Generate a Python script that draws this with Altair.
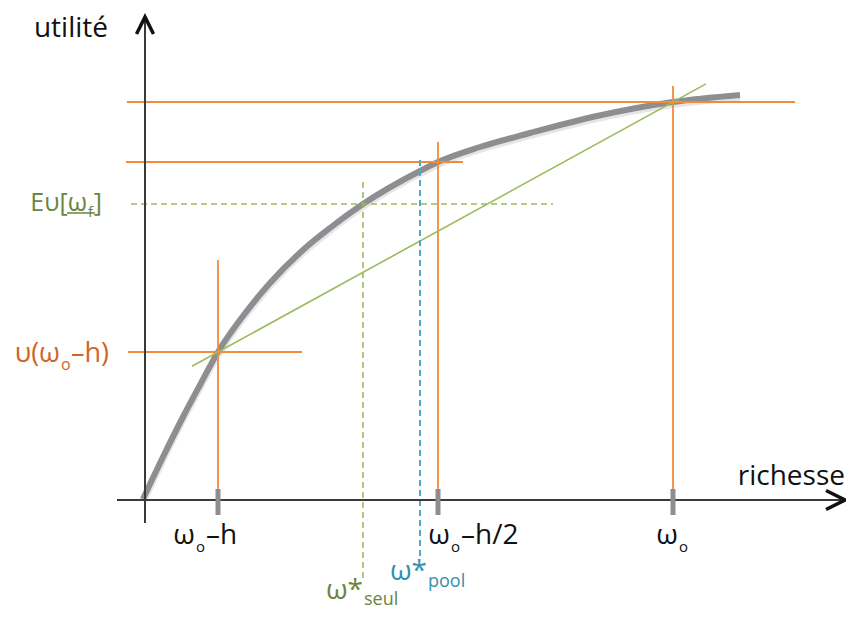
import altair as alt
import pandas as pd

# ---------------- data (schematic units: wealth w, utility u) ----------------
W_LOW = 73      # ω0 - h
W_MID = 293     # ω0 - h/2
W_0 = 528       # ω0
W_SEUL = 218    # ω*seul
W_POOL = 275    # ω*pool
U_LOW = 148     # u(ω0 - h)
U_MID = 338     # u(ω0 - h/2)
U_0 = 398       # u(ω0)
EU_F = 296      # Eu[ω_f]

curve_w = [-2, 18, 38, 55, 73, 95, 125, 158, 185, 218, 275, 293, 335, 385, 452, 528, 595]
curve_u = [1, 43, 83, 115, 148, 180, 217, 250, 272, 296, 329, 338, 353, 367, 384, 398, 405]

tick_w = [W_LOW, W_MID, W_0]

# extents of the guide lines
h_levels = [U_0, U_MID, U_LOW]
h_from = [-18, -19, -17]
h_to = [650, 318, 157]
v_levels = [W_LOW, W_MID, W_0]
v_top = [240, 358, 414]

X_AXIS = (-28, 698)
Y_AXIS = (-23, 481)

# chord through (ω0-h, u(ω0-h)) and (ω0, u(ω0)), extended a little
slope = (U_0 - U_LOW) / (W_0 - W_LOW)
chord_w = [47, 561]
chord_u = [U_LOW + slope * (w - W_LOW) for w in chord_w]

# ---------------- styling ----------------
FONT = "Open Sans"
ORANGE = "#F38B3C"
ORANGE_TXT = "#D0661E"
GREEN = "#9BBB59"
OLIVE_TXT = "#6A8540"
BLUE = "#4BACC6"
BLUE_TXT = "#3590AE"
GRAY = "#8E8E92"
BLACK = "#111111"

xs = alt.Scale(domain=[-137, 701], nice=False, zero=False)
ys = alt.Scale(domain=[-111, 492], nice=False, zero=False)


def X(f):
    return alt.X(f, type="quantitative", scale=xs, axis=None)


def Y(f):
    return alt.Y(f, type="quantitative", scale=ys, axis=None)


def seg_chart(df, color, width, dash=None):
    kw = dict(color=color, strokeWidth=width)
    if dash:
        kw["strokeDash"] = dash
    return alt.Chart(df).mark_rule(**kw).encode(
        x=X("x"), y=Y("y"), x2="x2:Q", y2="y2:Q"
    )


def label(text, x, y, color, size, align, dx, dy):
    df = pd.DataFrame({"x": [x], "y": [y], "t": [text]})
    return alt.Chart(df).mark_text(
        align=align, baseline="alphabetic", dx=dx, dy=dy,
        fontSize=size, color=color, font=FONT
    ).encode(x=X("x"), y=Y("y"), text="t:N")


curve_df = pd.DataFrame({"x": curve_w, "y": curve_u})
shadow_df = pd.DataFrame({"x": curve_w, "y": [u - 2 for u in curve_u]})
shadow = alt.Chart(shadow_df).mark_line(
    color="#B8B8B8", strokeWidth=8, opacity=0.35, interpolate="monotone"
).encode(x=X("x"), y=Y("y"))
curve = alt.Chart(curve_df).mark_line(
    color=GRAY, strokeWidth=6, interpolate="monotone", strokeCap="butt"
).encode(x=X("x"), y=Y("y"))

orange_df = pd.DataFrame({
    "x": h_from + v_levels,
    "x2": h_to + v_levels,
    "y": h_levels + [0, 0, 0],
    "y2": h_levels + v_top,
})
orange = seg_chart(orange_df, ORANGE, 1.8)

chord = alt.Chart(pd.DataFrame({"x": chord_w, "y": chord_u})).mark_line(
    color=GREEN, strokeWidth=1.6
).encode(x=X("x"), y=Y("y"))

green_dash = seg_chart(
    pd.DataFrame({"x": [-14, W_SEUL], "x2": [408, W_SEUL],
                  "y": [EU_F, -78], "y2": [EU_F, 319]}),
    GREEN, 1.6, [6, 4])
blue_dash = seg_chart(
    pd.DataFrame({"x": [W_POOL], "x2": [W_POOL], "y": [-56], "y2": [343]}),
    BLUE, 2, [6, 4])

axes = seg_chart(
    pd.DataFrame({"x": [X_AXIS[0], 0], "x2": [X_AXIS[1], 0],
                  "y": [0, Y_AXIS[0]], "y2": [0, Y_AXIS[1]]}),
    "#3A3A3A", 2)

ticks = seg_chart(
    pd.DataFrame({"x": tick_w, "x2": tick_w, "y": [-15] * 3, "y2": [11] * 3}),
    GRAY, 5)

ARROW = "M -0.5 1 L 0 0 L 0.5 1"
y_arrow = alt.Chart(pd.DataFrame({"x": [0], "y": [483]})).mark_point(
    shape=ARROW, size=1156, filled=False, color=BLACK, strokeWidth=3.5,
    opacity=1
).encode(x=X("x"), y=Y("y"))
x_arrow = alt.Chart(pd.DataFrame({"x": [X_AXIS[1] + 2], "y": [0]})).mark_point(
    shape=ARROW, size=1444, filled=False, color=BLACK, strokeWidth=3.5,
    opacity=1, angle=90
).encode(x=X("x"), y=Y("y"))

underline = seg_chart(
    pd.DataFrame({"x": [-78], "x2": [-50], "y": [EU_F - 9], "y2": [EU_F - 9]}),
    OLIVE_TXT, 1.5)

texts = [
    label("utilité", 0, 483, BLACK, 28, "right", -37, 20),
    label("richesse", X_AXIS[1] + 2, 0, BLACK, 28, "right", 0, -15),
    # Eυ[ω_f]
    label("Eυ[ω", 0, EU_F, OLIVE_TXT, 25, "right", -58, 7),
    label("f", 0, EU_F, OLIVE_TXT, 15, "left", -57, 13),
    label("]", 0, EU_F, OLIVE_TXT, 25, "right", -43, 7),
    # υ(ω_o–h)
    label("υ(ω", 0, U_LOW, ORANGE_TXT, 27, "right", -85, 10),
    label("o", 0, U_LOW, ORANGE_TXT, 16, "left", -84, 18),
    label("–h)", 0, U_LOW, ORANGE_TXT, 27, "left", -74, 10),
    # ω_o–h
    label("ω", W_LOW, 0, BLACK, 28, "right", -23, 44),
    label("o", W_LOW, 0, BLACK, 15, "left", -22, 52),
    label("–h", W_LOW, 0, BLACK, 28, "left", -12, 44),
    # ω_o–h/2
    label("ω", W_MID, 0, BLACK, 28, "right", 12, 44),
    label("o", W_MID, 0, BLACK, 15, "left", 13, 52),
    label("–h/2", W_MID, 0, BLACK, 28, "left", 23, 44),
    # ω_o
    label("ω", W_0, 0, BLACK, 28, "right", 5, 44),
    label("o", W_0, 0, BLACK, 15, "left", 6, 52),
    # ω*_pool
    label("ω*", W_POOL, 0, BLUE_TXT, 28, "right", 7, 80),
    label("pool", W_POOL, 0, BLUE_TXT, 18, "left", 8, 87),
    # ω*_seul
    label("ω*", W_SEUL, 0, OLIVE_TXT, 28, "right", 0, 99),
    label("seul", W_SEUL, 0, OLIVE_TXT, 18, "left", 1, 105),
]

chart = alt.layer(
    shadow, curve, orange, chord, green_dash, blue_dash, axes, ticks,
    y_arrow, x_arrow, underline, *texts
).properties(
    width=838, height=603, padding=0, autosize=alt.AutoSizeParams(type="none"),
    background="white"
).configure_view(stroke=None)

chart.save("out.html", embed_options={"renderer": "svg", "actions": False})
